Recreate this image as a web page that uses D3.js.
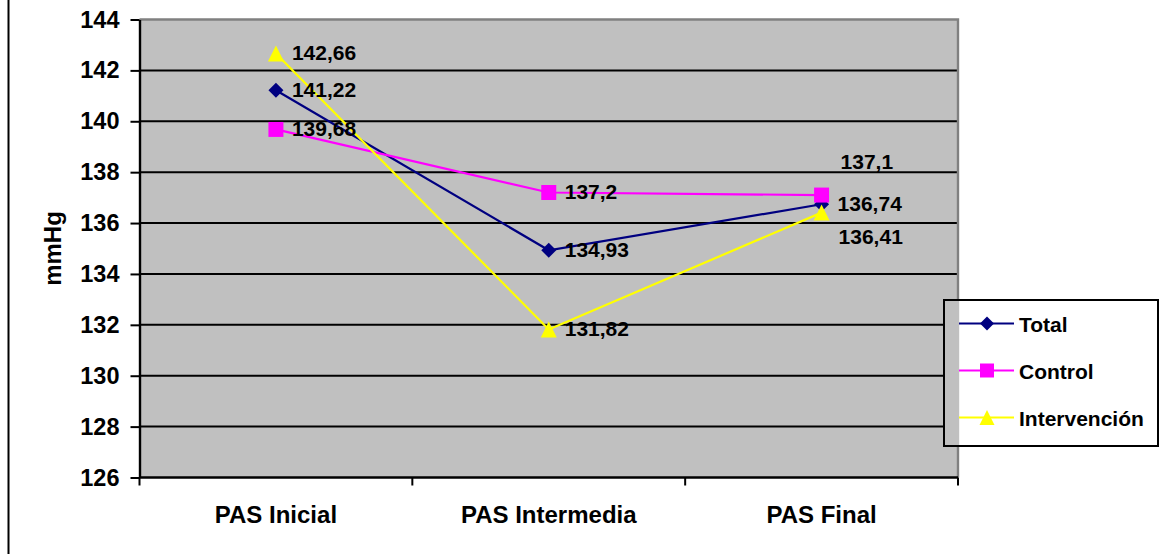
<!DOCTYPE html>
<html>
<head>
<meta charset="utf-8">
<script src="https://cdn.jsdelivr.net/npm/d3@7"></script>
<style>
  html, body { margin: 0; padding: 0; background: #ffffff; }
  svg { display: block; }
  text { font-family: "Liberation Sans", Arial, sans-serif; font-weight: bold; fill: #000; }
</style>
</head>
<body>
<svg id="chart" width="1161" height="554"></svg>
<script>
// Categories (measurement moments) and series of mean systolic pressure (mmHg)
const categories = ["PAS Inicial", "PAS Intermedia", "PAS Final"];
const seriesNames = ["Total", "Control", "Intervención"];
const totalValues = [141.22, 134.93, 136.74];
const controlValues = [139.68, 137.2, 137.1];
const intervencionValues = [142.66, 131.82, 136.41];
const yTicks = [126, 128, 130, 132, 134, 136, 138, 140, 142, 144];
const yLabel = "mmHg";

const seriesColors = ["#000080", "#FF00FF", "#FFFF00"];
const seriesMarkers = ["diamond", "square", "triangle"];

// Label placement for the last column, where the three values sit close together
const labelOffsets = {
  "Control-2": { dx: 19, dy: -26 },
  "Intervención-2": { dx: 17, dy: 31.5 }
};

const series = [
  { name: seriesNames[0], values: totalValues, color: seriesColors[0], marker: seriesMarkers[0] },
  { name: seriesNames[1], values: controlValues, color: seriesColors[1], marker: seriesMarkers[1] },
  { name: seriesNames[2], values: intervencionValues, color: seriesColors[2], marker: seriesMarkers[2] }
];

const svg = d3.select("#chart");
const plot = { left: 139.5, right: 958, top: 19.5, bottom: 477.5 };

const x = d3.scaleBand().domain(categories).range([plot.left, plot.right]).padding(0);
const y = d3.scaleLinear().domain([d3.min(yTicks), d3.max(yTicks)]).range([plot.bottom, plot.top]);
const cx = c => x(c) + x.bandwidth() / 2;

// Marker shapes, centred on their bounding box
function markerPath(type, s) {
  const h = s / 2;
  if (type === "diamond") return `M0,${-h}L${h},0L0,${h}L${-h},0Z`;
  if (type === "square") return `M${-h},${-h}H${h}V${h}H${-h}Z`;
  return `M0,${-h}L${h},${h}L${-h},${h}Z`;
}
const markerSize = { diamond: 15, square: 15, triangle: 16 };

// Outer frame edge on the left
svg.append("line")
  .attr("x1", 8.5).attr("x2", 8.5).attr("y1", 0).attr("y2", 554)
  .attr("stroke", "#000").attr("stroke-width", 2);

// Plot background
svg.append("rect")
  .attr("x", plot.left).attr("y", plot.top)
  .attr("width", plot.right - plot.left).attr("height", plot.bottom - plot.top)
  .attr("fill", "#C0C0C0");

// Horizontal gridlines
svg.append("g").selectAll("line")
  .data(yTicks.filter(t => t !== d3.min(yTicks) && t !== d3.max(yTicks)))
  .join("line")
  .attr("x1", plot.left).attr("x2", plot.right)
  .attr("y1", d => y(d)).attr("y2", d => y(d))
  .attr("stroke", "#000").attr("stroke-width", 2);

// Plot area border (top and right)
svg.append("path")
  .attr("d", `M${plot.left},${plot.top}H${plot.right}V${plot.bottom}`)
  .attr("fill", "none").attr("stroke", "#808080").attr("stroke-width", 2.4);

// Y axis
const yAxis = svg.append("g")
  .attr("transform", `translate(${plot.left},0)`)
  .call(d3.axisLeft(y).tickValues(yTicks).tickSize(9).tickPadding(11).tickSizeOuter(0).tickFormat(d3.format("d")));
yAxis.select(".domain").attr("stroke", "#000").attr("stroke-width", 2.4);
yAxis.selectAll(".tick line").attr("stroke", "#000").attr("stroke-width", 2);
yAxis.selectAll(".tick text")
  .style("font-family", "'Liberation Sans', Arial, sans-serif")
  .style("font-weight", "bold").style("font-size", "23.5px").attr("fill", "#000");

// X axis: labels centred in each band, ticks on the band boundaries
const xAxis = svg.append("g")
  .attr("transform", `translate(0,${plot.bottom})`)
  .call(d3.axisBottom(x).tickSize(0).tickPadding(28.5).tickSizeOuter(0));
xAxis.select(".domain").remove();
xAxis.selectAll(".tick text")
  .style("font-family", "'Liberation Sans', Arial, sans-serif")
  .style("font-weight", "bold").style("font-size", "24px").attr("fill", "#000");

svg.append("line")
  .attr("x1", plot.left).attr("x2", plot.right)
  .attr("y1", plot.bottom).attr("y2", plot.bottom)
  .attr("stroke", "#000").attr("stroke-width", 2.4);

const boundaries = categories.map(c => x(c)).concat([x.range()[1]]);
svg.append("g").selectAll("line")
  .data(boundaries)
  .join("line")
  .attr("x1", d => d).attr("x2", d => d)
  .attr("y1", plot.bottom).attr("y2", plot.bottom + 8)
  .attr("stroke", "#000").attr("stroke-width", 2);

// Y axis title
svg.append("text")
  .attr("transform", `translate(61,${(plot.top + plot.bottom) / 2}) rotate(-90)`)
  .attr("text-anchor", "middle")
  .style("font-size", "24px")
  .text(yLabel);

// Series lines and markers
const line = d3.line().x((d, i) => cx(categories[i])).y(d => y(d));
series.forEach(s => {
  svg.append("path")
    .datum(s.values)
    .attr("d", line)
    .attr("fill", "none").attr("stroke", s.color).attr("stroke-width", 2.2);
  svg.append("g").selectAll("path")
    .data(s.values)
    .join("path")
    .attr("transform", (d, i) => `translate(${cx(categories[i])},${y(d)})`)
    .attr("d", markerPath(s.marker, markerSize[s.marker]))
    .attr("fill", s.color);
});

// Value labels
const fmt = v => String(v).replace(".", ",");
series.forEach(s => {
  svg.append("g").selectAll("text")
    .data(s.values)
    .join("text")
    .attr("x", (d, i) => cx(categories[i]) + ((labelOffsets[`${s.name}-${i}`] || {}).dx ?? 16))
    .attr("y", (d, i) => y(d) + ((labelOffsets[`${s.name}-${i}`] || {}).dy ?? 6.8))
    .style("font-size", "21px")
    .text(d => fmt(d));
});

// Legend
const legend = { x: 944, y: 300, w: 214, h: 146, rowY0: 23.5, rowStep: 47 };
svg.append("rect")
  .attr("x", legend.x).attr("y", legend.y).attr("width", legend.w).attr("height", legend.h)
  .attr("fill", "#fff");
svg.append("rect")
  .attr("x", legend.x).attr("y", legend.y)
  .attr("width", plot.right + 1.2 - legend.x).attr("height", legend.h)
  .attr("fill", "#C0C0C0");
svg.append("rect")
  .attr("x", legend.x).attr("y", legend.y).attr("width", legend.w).attr("height", legend.h)
  .attr("fill", "none").attr("stroke", "#000").attr("stroke-width", 2);

const rows = svg.append("g").selectAll("g")
  .data(series)
  .join("g")
  .attr("transform", (d, i) => `translate(${legend.x},${legend.y + legend.rowY0 + i * legend.rowStep})`);
rows.append("line")
  .attr("x1", 15).attr("x2", 70).attr("y1", 0).attr("y2", 0)
  .attr("stroke", d => d.color).attr("stroke-width", 2.2);
rows.append("path")
  .attr("transform", "translate(43,0)")
  .attr("d", d => markerPath(d.marker, markerSize[d.marker] - 1))
  .attr("fill", d => d.color);
rows.append("text")
  .attr("x", 75).attr("y", 8)
  .style("font-size", "21px")
  .text(d => d.name);
</script>
</body>
</html>
